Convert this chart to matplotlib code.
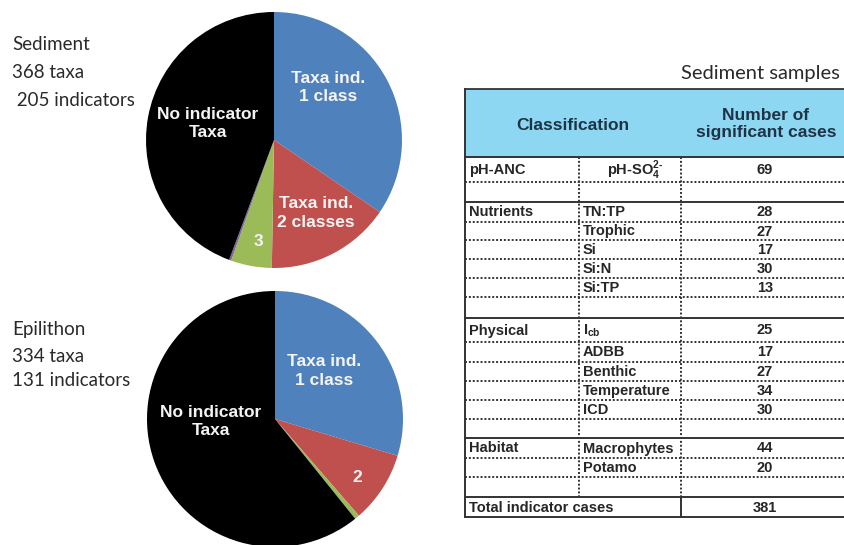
import matplotlib
matplotlib.use('Agg')
import matplotlib.pyplot as plt
from matplotlib.patches import Rectangle

# ---------------- data ----------------
slice_names = ['Taxa ind. 1 class', 'Taxa ind. 2 classes', 'Taxa ind. 3 classes',
               'Taxa ind. 4+ classes', 'No indicator taxa']
sed_values = [127, 58, 19, 1, 163]
epi_values = [99, 30, 2, 0, 203]
slice_colors = ['#4F81BD', '#C0504D', '#9BBB59', '#8064A2', '#000000']
sed_labels = ['Taxa ind.\n1 class', 'Taxa ind.\n2 classes', '3', '', 'No indicator\nTaxa']
epi_labels = ['Taxa ind.\n1 class', '2', '', '', 'No indicator\nTaxa']
sed_title = ['Sediment', '368 taxa', ' 205 indicators']
epi_title = ['Epilithon', '334 taxa', '131 indicators']

table_title = 'Sediment samples'
header_cols = ['Classification', 'Number of\nsignificant cases']
groups = ['pH-ANC', '', 'Nutrients', '', '', '', '', '', 'Physical', '', '', '', '', '',
          'Habitat', '', '']
variables = [r'pH-SO$_\mathbf{4}^\mathbf{2\text{-}}$', '', 'TN:TP', 'Trophic', 'Si', 'Si:N', 'Si:TP', '',
             r'I$_\mathbf{cb}$', 'ADBB', 'Benthic', 'Temperature', 'ICD', '',
             'Macrophytes', 'Potamo', '']
cases = [69, None, 28, 27, 17, 30, 13, None, 25, 17, 27, 34, 30, None, 44, 20, None]
total_label = 'Total indicator cases'
total_cases = 381

# ---------------- layout (pixels) ----------------
W, H = 845, 545
plt.rcParams['font.family'] = ['Liberation Sans', 'DejaVu Sans']
plt.rcParams['mathtext.fontset'] = 'custom'
plt.rcParams['mathtext.rm'] = 'Liberation Sans:bold'
plt.rcParams['mathtext.bf'] = 'Liberation Sans:bold'

fig = plt.figure(figsize=(W / 100, H / 100), dpi=100)
ax = fig.add_axes([0, 0, 1, 1])
ax.set_xlim(0, W)
ax.set_ylim(H, 0)
ax.axis('off')


def pie_axes(cx, cy, r):
    return fig.add_axes([(cx - r) / W, 1 - (cy + r) / H, 2 * r / W, 2 * r / H])


def draw_pie(cx, cy, r, values, labels, label_pos):
    pax = pie_axes(cx, cy, r)
    pax.pie(values, colors=slice_colors, startangle=90, counterclock=False,
            radius=1, wedgeprops=dict(linewidth=0))
    pax.set_xlim(-1, 1)
    pax.set_ylim(-1, 1)
    pax.set_aspect('equal')
    pax.axis('off')
    for lab, (lx, ly) in zip(labels, label_pos):
        if lab:
            pax.text(lx, ly, lab, ha='center', va='center', color='#F4F4F4',
                     fontsize=12.5, fontweight='bold', linespacing=1.3)


sed_label_pos = [(0.42, 0.41), (0.33, -0.57), (-0.12, -0.79), (0, 0), (-0.52, 0.13)]
epi_label_pos = [(0.38, 0.375), (0.64, -0.46), (0, 0), (0, 0), (-0.5, -0.02)]
draw_pie(274, 140, 128, sed_values, sed_labels, sed_label_pos)
draw_pie(275, 419, 128, epi_values, epi_labels, epi_label_pos)

# left-side titles
side_font = ['Lato', 'DejaVu Sans']
for txt, y in zip(sed_title, [45, 73, 100]):
    ax.text(12, y, txt, ha='left', va='center', fontsize=13.5, family=side_font,
            color='#2a2a2a')
for txt, y in zip(epi_title, [330, 356, 381]):
    ax.text(12, y, txt, ha='left', va='center', fontsize=13.5, family=side_font,
            color='#2a2a2a')

# ---------------- table ----------------
x_left, x_c1, x_c2, x_right = 465, 579, 681, 852
y_head_top, y_head_bot = 89, 157
row_edges = [157, 182, 202, 222, 240, 259, 278, 297, 318, 342, 362, 381, 400, 419,
             438, 458, 477, 497, 517]
line_col = '#333333'
dot = (0, (1, 1))

ax.text(840, 73, table_title, ha='right', va='center', fontsize=14.5,
        family=side_font, color='#2a2a2a')

ax.add_patch(Rectangle((x_left, y_head_top), x_right - x_left, y_head_bot - y_head_top,
                       facecolor='#8DD7F3', edgecolor='none', zorder=1))
ax.plot([x_left, x_right], [y_head_top, y_head_top], color=line_col, lw=1.3, zorder=3)
ax.text((x_left + x_c2) / 2, 125, header_cols[0], ha='center', va='center',
        fontsize=12.5, fontweight='bold', color='#1E3446')
ax.text(766, 124, header_cols[1], ha='center', va='center', fontsize=12.5,
        fontweight='bold', color='#1E3446', linespacing=1.2)

# horizontal lines
n = len(groups)
for i in range(n):
    y = row_edges[i]
    if groups[i]:
        ax.plot([x_left, x_right], [y, y], color=line_col, lw=1.4, zorder=3)
    else:
        ax.plot([x_left, x_right], [y, y], color=line_col, lw=1.4, ls=dot, zorder=3)
ax.plot([x_left, x_right], [row_edges[n], row_edges[n]], color=line_col, lw=1.4, zorder=3)
ax.plot([x_left, x_right], [row_edges[n + 1], row_edges[n + 1]], color=line_col, lw=1.4, zorder=3)

# vertical lines
ax.plot([x_left, x_left], [y_head_top, row_edges[-1]], color=line_col, lw=1.4, zorder=3)
for xv in (x_c1, x_c2):
    ax.plot([xv, xv], [row_edges[0], row_edges[n]], color=line_col, lw=1.4, ls=dot, zorder=3)
ax.plot([x_c2, x_c2], [row_edges[n], row_edges[n + 1]], color=line_col, lw=1.4, zorder=3)

# cell texts
tfs = 10.5
tcol = '#262626'
for i in range(n):
    yc = (row_edges[i] + row_edges[i + 1]) / 2 + 0.5
    if groups[i]:
        ax.text(x_left + 4, yc, groups[i], ha='left', va='center', fontsize=tfs,
                fontweight='bold', color=tcol)
    if variables[i]:
        if i == 0:
            ax.text((x_c1 + x_c2) / 2 + 5, yc, variables[i], ha='center', va='center',
                    fontsize=tfs, fontweight='bold', color=tcol)
        else:
            ax.text(x_c1 + 4, yc, variables[i], ha='left', va='center', fontsize=tfs,
                    fontweight='bold', color=tcol)
    if cases[i] is not None:
        ax.text(765, yc, str(cases[i]), ha='center', va='center', fontsize=tfs,
                fontweight='bold', color=tcol)
yc = (row_edges[n] + row_edges[n + 1]) / 2 + 0.5
ax.text(x_left + 4, yc, total_label, ha='left', va='center', fontsize=tfs,
        fontweight='bold', color=tcol)
ax.text(765, yc, str(total_cases), ha='center', va='center', fontsize=tfs,
        fontweight='bold', color=tcol)

fig.savefig('out.png', dpi=100, facecolor='white')
